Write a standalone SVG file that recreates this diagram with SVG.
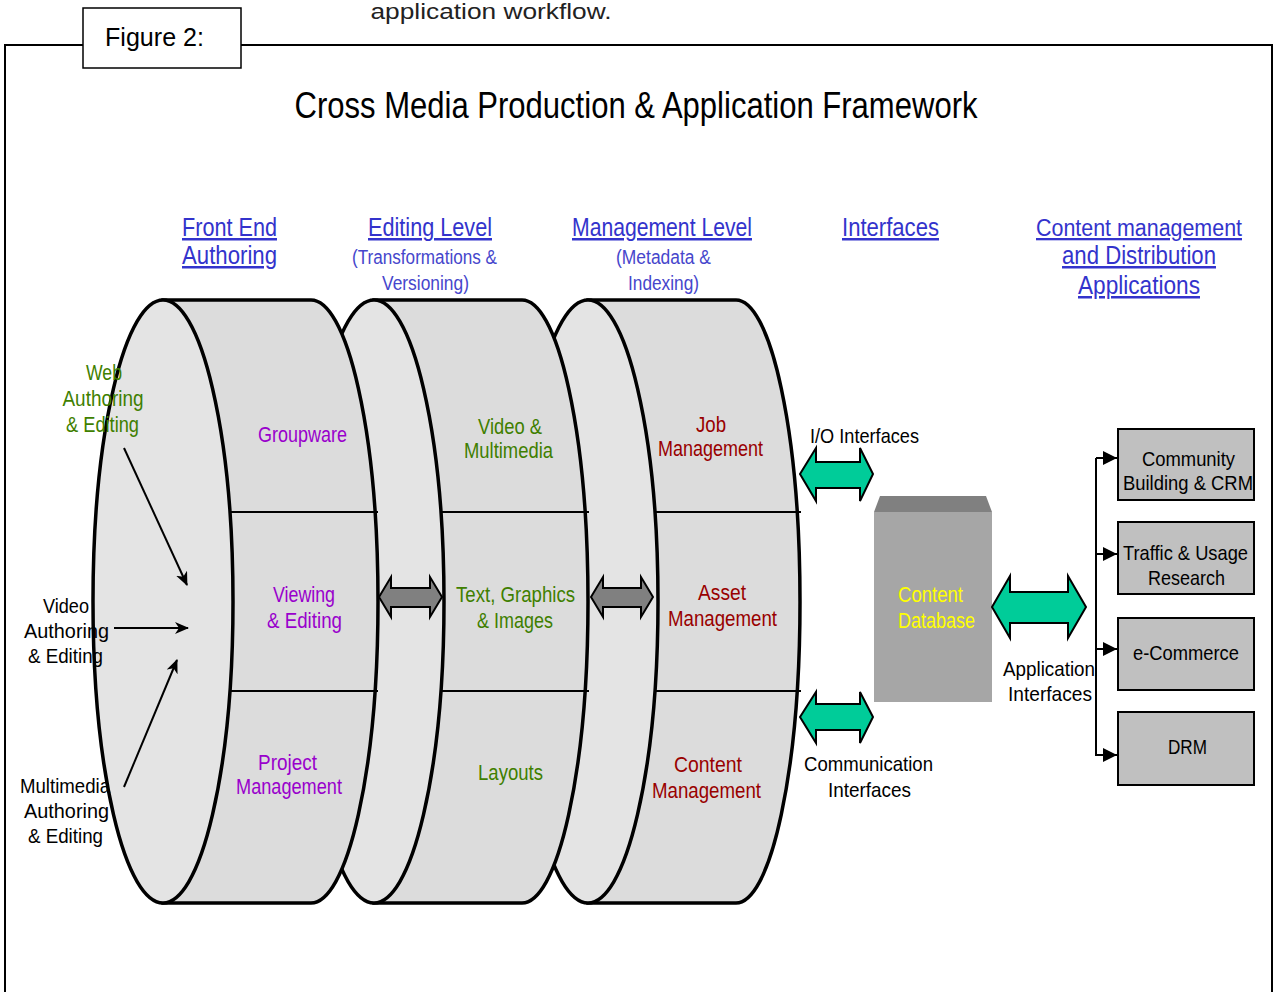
<svg xmlns="http://www.w3.org/2000/svg" width="1273" height="992" viewBox="0 0 1273 992">
<style>
text{font-family:"Liberation Sans",Arial,sans-serif;text-anchor:middle}
.hdr{font-size:25px;fill:#3333cc;text-decoration:underline}
.sub{font-size:20px;fill:#4646cc}
.grn{font-size:22px;fill:#3f7f00}
.pur{font-size:22px;fill:#9900cc}
.red{font-size:22px;fill:#990000}
.blk{font-size:21px;fill:#000}
.body{fill:#dcdcdc;stroke:#000;stroke-width:3.5}
.face{fill:#e4e4e4;stroke:#000;stroke-width:3.5}
.div{stroke:#000;stroke-width:2}
.gray{fill:#808080;stroke:#000;stroke-width:2}
.green{fill:#00cc99;stroke:#000;stroke-width:2}
.box{fill:#c0c0c0;stroke:#000;stroke-width:2}
.conn{stroke:#000;stroke-width:2;fill:none}
</style>
<defs>
<marker id="ah" markerWidth="14" markerHeight="12" refX="13" refY="6" orient="auto" markerUnits="userSpaceOnUse">
<path d="M0,0 L14,6 L0,12 L4,6 Z" fill="#000"/>
</marker>
<marker id="ah2" markerWidth="14" markerHeight="14" refX="14" refY="7" orient="auto" markerUnits="userSpaceOnUse">
<path d="M0,0 L14,7 L0,14 Z" fill="#000"/>
</marker>
</defs>
<rect width="1273" height="992" fill="#fff"/>
<text x="491" y="19" style="font-size:22px;fill:#222" textLength="241" lengthAdjust="spacingAndGlyphs">application workflow.</text>
<g id="frame">
<path d="M5,992 L5,45 L83,45 M241,45 L1272,45 L1272,992" fill="none" stroke="#000" stroke-width="2"/>
<rect x="83" y="8" width="158" height="60" fill="#fff" stroke="#000" stroke-width="1.5"/>
<text x="154.5" y="46" style="font-size:25px" textLength="99" lengthAdjust="spacingAndGlyphs">Figure 2:</text>
</g>
<text x="636" y="118" style="font-size:37px" textLength="683" lengthAdjust="spacingAndGlyphs">Cross Media Production &amp; Application Framework</text>
<g id="headers">
<text class="hdr" x="229.5" y="236" textLength="95" lengthAdjust="spacingAndGlyphs">Front End</text>
<text class="hdr" x="229.5" y="264" textLength="95" lengthAdjust="spacingAndGlyphs">Authoring</text>
<text class="hdr" x="430" y="236" textLength="124" lengthAdjust="spacingAndGlyphs">Editing Level</text>
<text class="sub" x="424.5" y="264" textLength="145" lengthAdjust="spacingAndGlyphs">(Transformations &amp;</text>
<text class="sub" x="425.5" y="290" textLength="87" lengthAdjust="spacingAndGlyphs">Versioning)</text>
<text class="hdr" x="662" y="236" textLength="180" lengthAdjust="spacingAndGlyphs">Management Level</text>
<text class="sub" x="663.5" y="264" textLength="95" lengthAdjust="spacingAndGlyphs">(Metadata &amp;</text>
<text class="sub" x="663.5" y="290" textLength="71" lengthAdjust="spacingAndGlyphs">Indexing)</text>
<text class="hdr" x="890.5" y="236" textLength="97" lengthAdjust="spacingAndGlyphs">Interfaces</text>
<text class="hdr" x="1139" y="236" style="font-size:23px" textLength="206" lengthAdjust="spacingAndGlyphs">Content management</text>
<text class="hdr" x="1139" y="264" textLength="154" lengthAdjust="spacingAndGlyphs">and Distribution</text>
<text class="hdr" x="1139" y="294" textLength="122" lengthAdjust="spacingAndGlyphs">Applications</text>
</g>
<g id="management-level">
<path class="body" d="M588,300 L736,300 A64 301.5 0 0 1 736,903 L588,903 Z"/>
<ellipse class="face" cx="588" cy="601.5" rx="70" ry="301.5"/>
<line class="div" x1="654" y1="512" x2="801" y2="512"/>
<line class="div" x1="654" y1="691" x2="801" y2="691"/>
<text class="red" x="711" y="432" textLength="30" lengthAdjust="spacingAndGlyphs">Job</text>
<text class="red" x="710.5" y="456" textLength="105" lengthAdjust="spacingAndGlyphs">Management</text>
<text class="red" x="722" y="600" textLength="48" lengthAdjust="spacingAndGlyphs">Asset</text>
<text class="red" x="722.5" y="626" textLength="109" lengthAdjust="spacingAndGlyphs">Management</text>
<text class="red" x="708" y="772" textLength="68" lengthAdjust="spacingAndGlyphs">Content</text>
<text class="red" x="706.5" y="798" textLength="109" lengthAdjust="spacingAndGlyphs">Management</text>
</g>
<g id="editing-level">
<path class="body" d="M374,300 L522,300 A66 301.5 0 0 1 522,903 L374,903 Z"/>
<ellipse class="face" cx="374" cy="601.5" rx="70" ry="301.5"/>
<line class="div" x1="440" y1="512" x2="589" y2="512"/>
<line class="div" x1="440" y1="691" x2="589" y2="691"/>
<text class="grn" x="510" y="434" textLength="64" lengthAdjust="spacingAndGlyphs">Video &amp;</text>
<text class="grn" x="508.5" y="458" textLength="89" lengthAdjust="spacingAndGlyphs">Multimedia</text>
<text class="grn" x="515.5" y="602" textLength="119" lengthAdjust="spacingAndGlyphs">Text, Graphics</text>
<text class="grn" x="515" y="628" textLength="76" lengthAdjust="spacingAndGlyphs">&amp; Images</text>
<text class="grn" x="510.5" y="780" textLength="65" lengthAdjust="spacingAndGlyphs">Layouts</text>
</g>
<g id="front-end">
<path class="body" d="M163,300 L311,300 A67 301.5 0 0 1 311,903 L163,903 Z"/>
<ellipse class="face" cx="163" cy="601.5" rx="70" ry="301.5"/>
<line class="div" x1="229" y1="512" x2="378" y2="512"/>
<line class="div" x1="229" y1="691" x2="378" y2="691"/>
<text class="pur" x="302.5" y="442" textLength="89" lengthAdjust="spacingAndGlyphs">Groupware</text>
<text class="pur" x="304" y="602" textLength="62" lengthAdjust="spacingAndGlyphs">Viewing</text>
<text class="pur" x="304.5" y="628" textLength="75" lengthAdjust="spacingAndGlyphs">&amp; Editing</text>
<text class="pur" x="287.5" y="770" textLength="59" lengthAdjust="spacingAndGlyphs">Project</text>
<text class="pur" x="289" y="794" textLength="106" lengthAdjust="spacingAndGlyphs">Management</text>
</g>
<g id="web-label">
<text class="grn" x="104" y="380" textLength="36" lengthAdjust="spacingAndGlyphs">Web</text>
<text class="grn" x="103" y="406" textLength="81" lengthAdjust="spacingAndGlyphs">Authoring</text>
<text class="grn" x="102.5" y="432" textLength="73" lengthAdjust="spacingAndGlyphs">&amp; Editing</text>
</g>
<g id="video-label">
<text class="blk" x="66" y="613" textLength="46" lengthAdjust="spacingAndGlyphs">Video</text>
<text class="blk" x="66.5" y="638" textLength="85" lengthAdjust="spacingAndGlyphs">Authoring</text>
<text class="blk" x="65.5" y="663" textLength="75" lengthAdjust="spacingAndGlyphs">&amp; Editing</text>
</g>
<g id="multimedia-label">
<text class="blk" x="65" y="793" textLength="90" lengthAdjust="spacingAndGlyphs">Multimedia</text>
<text class="blk" x="66.5" y="818" textLength="85" lengthAdjust="spacingAndGlyphs">Authoring</text>
<text class="blk" x="65.5" y="843" textLength="75" lengthAdjust="spacingAndGlyphs">&amp; Editing</text>
</g>
<g id="content-database">
<path d="M880,496 L986,496 L992,512 L874,512 Z" fill="#808080"/>
<rect x="874" y="512" width="118" height="190" fill="#a6a6a6"/>
<text x="898" y="602" style="font-size:22px;fill:#ffff00;text-anchor:start" textLength="65" lengthAdjust="spacingAndGlyphs">Content</text>
<text x="898" y="628" style="font-size:22px;fill:#ffff00;text-anchor:start" textLength="77" lengthAdjust="spacingAndGlyphs">Database</text>
</g>
<g id="interface-labels">
<text class="blk" x="864.5" y="443" textLength="109" lengthAdjust="spacingAndGlyphs">I/O Interfaces</text>
<text class="blk" x="868.5" y="771" textLength="129" lengthAdjust="spacingAndGlyphs">Communication</text>
<text class="blk" x="869.5" y="797" textLength="83" lengthAdjust="spacingAndGlyphs">Interfaces</text>
<text class="blk" x="1049" y="676" textLength="92" lengthAdjust="spacingAndGlyphs">Application</text>
<text class="blk" x="1050" y="701" textLength="84" lengthAdjust="spacingAndGlyphs">Interfaces</text>
</g>
<g id="app-community">
<rect class="box" x="1118" y="429" width="136" height="71"/>
<text class="blk" x="1188.5" y="466" textLength="93" lengthAdjust="spacingAndGlyphs">Community</text>
<text class="blk" x="1188" y="490" textLength="130" lengthAdjust="spacingAndGlyphs">Building &amp; CRM</text>
</g>
<g id="app-traffic">
<rect class="box" x="1118" y="522" width="136" height="72"/>
<text class="blk" x="1185.5" y="560" textLength="125" lengthAdjust="spacingAndGlyphs">Traffic &amp; Usage</text>
<text class="blk" x="1186.5" y="585" textLength="77" lengthAdjust="spacingAndGlyphs">Research</text>
</g>
<g id="app-ecommerce">
<rect class="box" x="1118" y="618" width="136" height="72"/>
<text class="blk" x="1186" y="660" textLength="106" lengthAdjust="spacingAndGlyphs">e-Commerce</text>
</g>
<g id="app-drm">
<rect class="box" x="1118" y="712" width="136" height="73"/>
<text class="blk" x="1187.5" y="754" textLength="39" lengthAdjust="spacingAndGlyphs">DRM</text>
</g>
<g id="connectors">
<path class="gray" d="M379,597 L391,577 L391,588 L430,588 L430,577 L442,597 L430,617 L430,607 L391,607 L391,617 Z"/>
<path class="gray" d="M591,597 L603,577 L603,588 L641,588 L641,577 L653,597 L641,617 L641,607 L603,607 L603,617 Z"/>
<path class="green" d="M800,474 L816,448 L816,462 L860,462 L860,448 L873,474 L860,501 L860,488 L816,488 L816,501 Z"/>
<path class="green" d="M800,717 L816,692 L816,704 L860,704 L860,692 L873,717 L860,743 L860,730 L816,730 L816,743 Z"/>
<path class="green" d="M992,607 L1010,576 L1010,592 L1068,592 L1068,576 L1086,607 L1068,638 L1068,623 L1010,623 L1010,638 Z"/>
<line class="conn" x1="124" y1="448" x2="187" y2="585" marker-end="url(#ah)"/>
<line class="conn" x1="114" y1="628" x2="188" y2="628" marker-end="url(#ah)"/>
<line class="conn" x1="124" y1="787" x2="177" y2="660" marker-end="url(#ah)"/>
<path class="conn" d="M1096,458 L1096,756"/>
<line class="conn" x1="1096" y1="458" x2="1117" y2="458" marker-end="url(#ah2)"/>
<line class="conn" x1="1096" y1="554" x2="1117" y2="554" marker-end="url(#ah2)"/>
<line class="conn" x1="1096" y1="649" x2="1117" y2="649" marker-end="url(#ah2)"/>
<line class="conn" x1="1096" y1="755" x2="1117" y2="755" marker-end="url(#ah2)"/>
</g>
</svg>
